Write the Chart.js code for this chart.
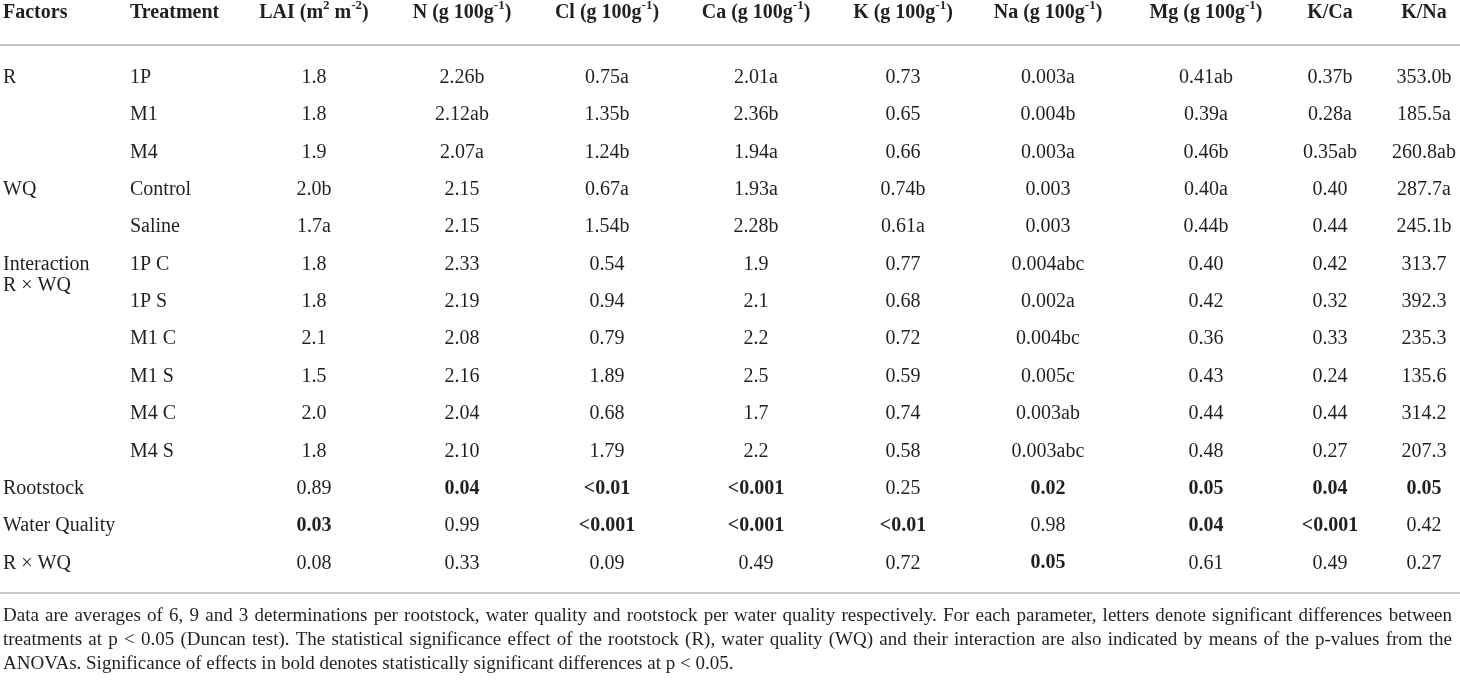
<!DOCTYPE html>
<html>
<head>
<meta charset="utf-8">
<script src="https://cdn.jsdelivr.net/npm/chart.js@4.4.0/dist/chart.umd.min.js"></script>
<style>
  html, body { margin: 0; padding: 0; background: #fff; }
  #wrap { width: 1460px; height: 683px; position: relative; }
</style>
</head>
<body>
<div id="wrap"><canvas id="table"></canvas></div>
<script>
// table contents, one array per column, rows top to bottom
var factorLabels = ['R', '', '', 'WQ', '', ['Interaction', 'R \u00d7 WQ'], '', '', '', '', '', 'Rootstock', 'Water Quality', 'R \u00d7 WQ'];
var treatments = ['1P', 'M1', 'M4', 'Control', 'Saline', '1P C', '1P S', 'M1 C', 'M1 S', 'M4 C', 'M4 S', '', '', ''];

var lai       = ['1.8', '1.8', '1.9', '2.0b', '1.7a', '1.8', '1.8', '2.1', '1.5', '2.0', '1.8', '0.89', '0.03', '0.08'];
var nitrogen  = ['2.26b', '2.12ab', '2.07a', '2.15', '2.15', '2.33', '2.19', '2.08', '2.16', '2.04', '2.10', '0.04', '0.99', '0.33'];
var chloride  = ['0.75a', '1.35b', '1.24b', '0.67a', '1.54b', '0.54', '0.94', '0.79', '1.89', '0.68', '1.79', '<0.01', '<0.001', '0.09'];
var calcium   = ['2.01a', '2.36b', '1.94a', '1.93a', '2.28b', '1.9', '2.1', '2.2', '2.5', '1.7', '2.2', '<0.001', '<0.001', '0.49'];
var potassium = ['0.73', '0.65', '0.66', '0.74b', '0.61a', '0.77', '0.68', '0.72', '0.59', '0.74', '0.58', '0.25', '<0.01', '0.72'];
var sodium    = ['0.003a', '0.004b', '0.003a', '0.003', '0.003', '0.004abc', '0.002a', '0.004bc', '0.005c', '0.003ab', '0.003abc', '0.02', '0.98', '0.05'];
var magnesium = ['0.41ab', '0.39a', '0.46b', '0.40a', '0.44b', '0.40', '0.42', '0.36', '0.43', '0.44', '0.48', '0.05', '0.04', '0.61'];
var kCa       = ['0.37b', '0.28a', '0.35ab', '0.40', '0.44', '0.42', '0.32', '0.33', '0.24', '0.44', '0.27', '0.04', '<0.001', '0.49'];
var kNa       = ['353.0b', '185.5a', '260.8ab', '287.7a', '245.1b', '313.7', '392.3', '235.3', '135.6', '314.2', '207.3', '0.05', '0.42', '0.27'];

// headers, {..} = superscript
var headers = ['Factors', 'Treatment', 'LAI (m{2} m{-2})', 'N (g 100g{-1})', 'Cl (g 100g{-1})', 'Ca (g 100g{-1})',
  'K (g 100g{-1})', 'Na (g 100g{-1})', 'Mg (g 100g{-1})', 'K/Ca', 'K/Na'];

// p-values significant at 0.05 (row, value column) -> bold
var boldCells = [[11, 1], [11, 2], [11, 3], [11, 5], [11, 6], [11, 7], [11, 8],
  [12, 0], [12, 2], [12, 3], [12, 4], [12, 6], [12, 7], [13, 5]];

var footnote = [
  'Data are averages of 6, 9 and 3 determinations per rootstock, water quality and rootstock per water quality respectively. For each parameter, letters denote significant differences between',
  'treatments at p < 0.05 (Duncan test). The statistical significance effect of the rootstock (R), water quality (WQ) and their interaction are also indicated by means of the p-values from the',
  'ANOVAs. Significance of effects in bold denotes statistically significant differences at p < 0.05.'
];

// ---- layout (column widths, like a table colgroup) ----
var colWidths = [125, 115, 148, 148, 142, 156, 138, 152, 164, 84, 104];
var textColor = '#231f20';
var ruleColor = '#c8c8c8';
var serif = "'Liberation Serif', 'DejaVu Serif', serif";

var valueCols = [lai, nitrogen, chloride, calcium, potassium, sodium, magnesium, kCa, kNa];
var allCols = [factorLabels, treatments].concat(valueCols);

var edges = [0];
colWidths.forEach(function (w) { edges.push(edges[edges.length - 1] + w); });

var datasets = allCols.map(function (col, c) {
  var left = c < 2;
  var x = left ? edges[c] + (c == 0 ? 3 : 5) : edges[c] + colWidths[c] / 2;
  return {
    label: headers[c],
    cells: col,
    align: left ? 'left' : 'center',
    data: col.map(function (v, r) { return { x: x, y: r }; }),
    pointRadius: 0,
    showLine: false
  };
});

function isBold(r, c) {
  return boldCells.some(function (b) { return b[0] == r && b[1] == c - 2; });
}

function drawRich(ctx, text, x, y, align) {
  var parts = text.split(/\{([^}]*)\}/);
  var normal = 'bold 20px ' + serif, sup = 'bold 13px ' + serif;
  var total = 0;
  parts.forEach(function (p, i) {
    ctx.font = i % 2 ? sup : normal;
    total += ctx.measureText(p).width;
  });
  var cx = align == 'left' ? x : x - total / 2;
  ctx.textAlign = 'left';
  parts.forEach(function (p, i) {
    ctx.font = i % 2 ? sup : normal;
    ctx.fillText(p, cx, i % 2 ? y - 7 : y);
    cx += ctx.measureText(p).width;
  });
}

function drawJustified(ctx, text, x, y, width) {
  var words = text.split(' ');
  var sum = 0;
  words.forEach(function (w) { sum += ctx.measureText(w).width; });
  var gap = (width - sum) / (words.length - 1);
  var squeeze = 1;
  if (gap < 3) { gap = 3; squeeze = width / (sum + gap * (words.length - 1)); }
  ctx.save();
  ctx.translate(x, y);
  ctx.scale(squeeze, 1);
  var cx = 0;
  ctx.textAlign = 'left';
  words.forEach(function (w) {
    ctx.fillText(w, cx, 0);
    cx += ctx.measureText(w).width + gap;
  });
  ctx.restore();
}

var tablePlugin = {
  id: 'tableText',
  afterDatasetsDraw: function (chart) {
    var ctx = chart.ctx;
    var ys = chart.scales.y;
    var area = chart.chartArea;
    ctx.save();
    ctx.fillStyle = textColor;
    ctx.textBaseline = 'middle';

    // header row
    chart.data.datasets.forEach(function (ds, c) {
      var pt = chart.getDatasetMeta(c).data[0];
      drawRich(ctx, ds.label, pt.x, ys.getPixelForValue(-1.74), ds.align);
    });

    // rules under header and under the last row
    ctx.strokeStyle = ruleColor;
    ctx.lineWidth = 2;
    [-0.88, 13.8].forEach(function (v) {
      var y = Math.round(ys.getPixelForValue(v));
      ctx.beginPath();
      ctx.moveTo(area.left, y);
      ctx.lineTo(area.right, y);
      ctx.stroke();
    });

    // body cells
    chart.data.datasets.forEach(function (ds, c) {
      var meta = chart.getDatasetMeta(c);
      ctx.textAlign = ds.align;
      meta.data.forEach(function (pt, r) {
        var v = ds.cells[r];
        if (!v) return;
        ctx.font = (isBold(r, c) ? 'bold ' : '') + '20px ' + serif;
        if (Array.isArray(v)) {
          ctx.fillText(v[0], pt.x, pt.y);
          ctx.fillText(v[1], pt.x, ys.getPixelForValue(r + 0.57));
        } else {
          ctx.fillText(v, pt.x, pt.y);
        }
      });
    });

    // footnote
    ctx.font = '19px ' + serif;
    var fy = [14.42, 15.06, 15.7];
    footnote.forEach(function (line, i) {
      var y = ys.getPixelForValue(fy[i]);
      if (i < footnote.length - 1) {
        drawJustified(ctx, line, 3, y, 1449);
      } else {
        ctx.textAlign = 'left';
        ctx.fillText(line, 3, y);
      }
    });
    ctx.restore();
  }
};

new Chart(document.getElementById('table'), {
  type: 'scatter',
  data: { datasets: datasets },
  options: {
    responsive: true,
    maintainAspectRatio: false,
    animation: false,
    layout: { padding: { top: 59, bottom: 101, left: 0, right: 0 } },
    plugins: { legend: { display: false }, tooltip: { enabled: false } },
    scales: {
      x: { type: 'linear', min: 0, max: 1460, display: false },
      y: { type: 'linear', min: -0.5, max: 13.5, reverse: true, display: false }
    }
  },
  plugins: [tablePlugin]
});
</script>
</body>
</html>
